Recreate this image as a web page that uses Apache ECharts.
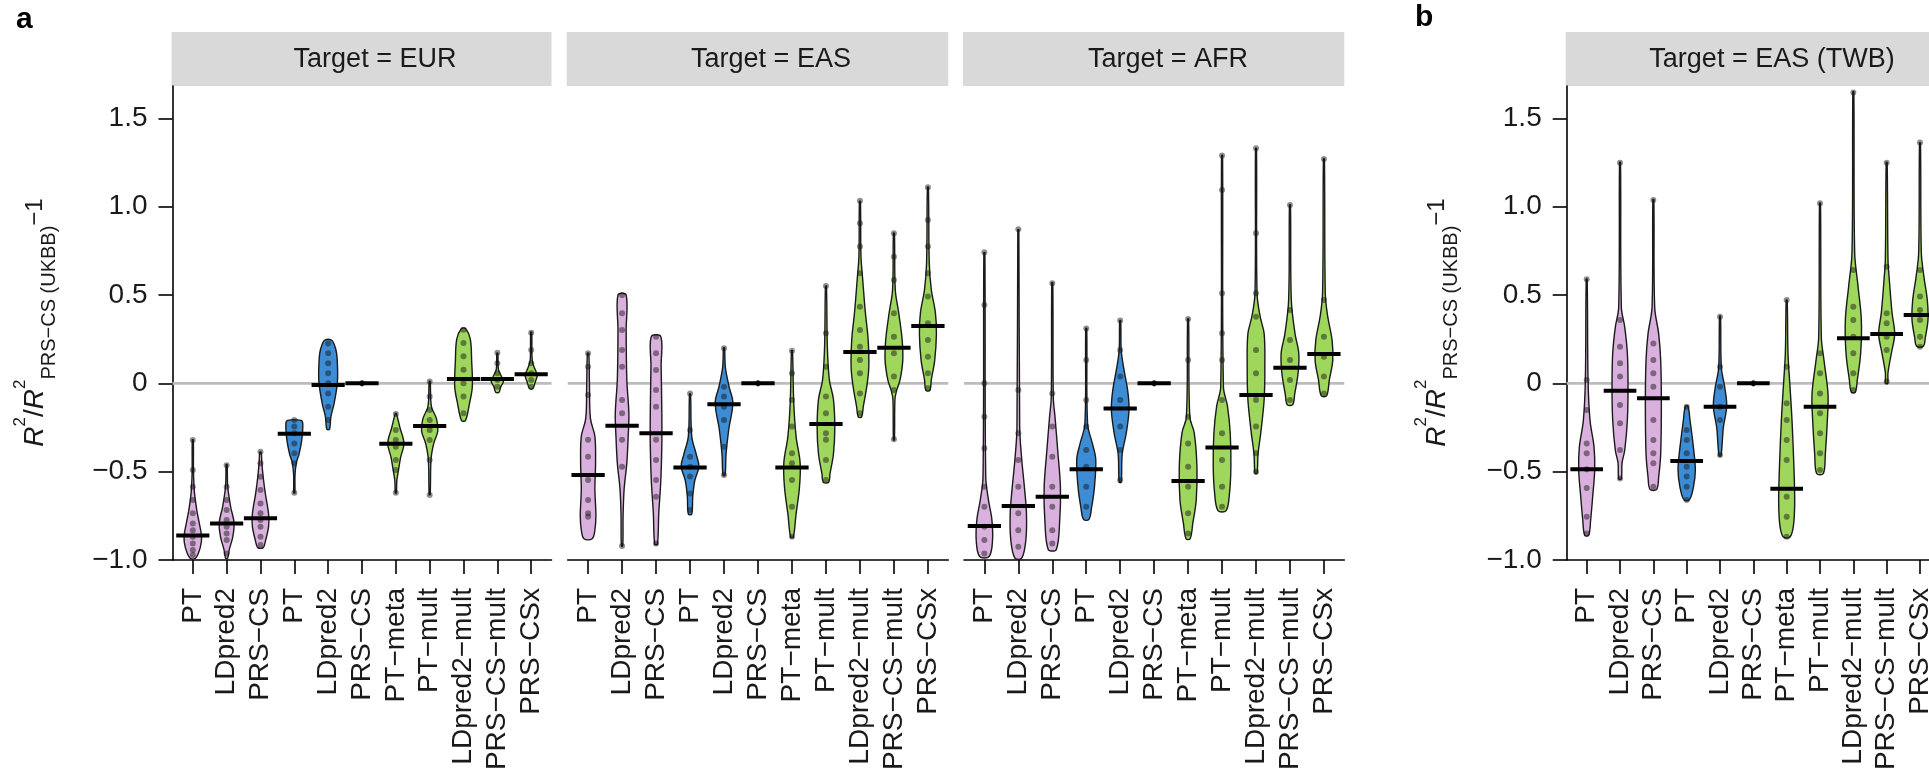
<!DOCTYPE html>
<html>
<head>
	<meta charset="UTF-8">
	<title>R2 ratio violins</title>
	<script src="https://cdn.jsdelivr.net/npm/echarts@6/dist/echarts.min.js"></script>
	<style>
		body { margin: 0; background: #fff; }
		#main { width: 1929px; height: 775px; }
	</style>
</head>
<body>
	<div id="main"></div>
	<script>

	// categories (x axis of every facet)
	var methods = ['PT', 'LDpred2', 'PRS\u2212CS', 'PT', 'LDpred2', 'PRS\u2212CS', 'PT\u2212meta', 'PT\u2212mult',
		'LDpred2\u2212mult', 'PRS\u2212CS\u2212mult', 'PRS\u2212CSx'];
	var methodGroup = [0, 0, 0, 1, 1, 1, 2, 2, 2, 2, 2];
	var panelTitles = ['Target = EUR', 'Target = EAS', 'Target = AFR', 'Target = EAS (TWB)'];

	// median per method, one array per facet
	var eurMedian = [-0.861, -0.793, -0.763, -0.285, -0.01, 0, -0.342, -0.242, 0.024, 0.024, 0.051];
	var easMedian = [-0.519, -0.24, -0.283, -0.476, -0.119, 0, -0.476, -0.23, 0.177, 0.202, 0.324];
	var afrMedian = [-0.808, -0.695, -0.642, -0.487, -0.142, 0, -0.553, -0.363, -0.066, 0.088, 0.166];
	var twbMedian = [-0.487, -0.042, -0.085, -0.44, -0.132, 0, -0.597, -0.132, 0.255, 0.279, 0.387];

	// violin outlines: [value, half width in category units], top to bottom
	var refDot = [[0.012, 0.015], [0, 0.06], [-0.012, 0.015]];
	var eurViolin = [
		[[-0.32, 0.015], [-0.5, 0.02], [-0.62, 0.05], [-0.72, 0.12], [-0.8, 0.2], [-0.87, 0.26], [-0.93, 0.22], [-0.99, 0.08]],
		[[-0.46, 0.015], [-0.58, 0.03], [-0.7, 0.12], [-0.79, 0.22], [-0.87, 0.18], [-0.94, 0.08], [-0.99, 0.03]],
		[[-0.39, 0.02], [-0.45, 0.04], [-0.53, 0.08], [-0.62, 0.14], [-0.74, 0.24], [-0.81, 0.24], [-0.89, 0.15], [-0.93, 0.08]],
		[[-0.21, 0.2], [-0.23, 0.25], [-0.32, 0.22], [-0.4, 0.14], [-0.45, 0.06], [-0.52, 0.02], [-0.62, 0.015]],
		[[0.245, 0.1], [0.22, 0.18], [0.17, 0.25], [0.07, 0.28], [0, 0.27], [-0.11, 0.18], [-0.19, 0.08], [-0.26, 0.04]],
		refDot,
		[[-0.17, 0.015], [-0.25, 0.12], [-0.34, 0.24], [-0.42, 0.14], [-0.49, 0.08], [-0.55, 0.03], [-0.62, 0.015]],
		[[0.01, 0.015], [-0.13, 0.05], [-0.2, 0.2], [-0.27, 0.24], [-0.34, 0.12], [-0.43, 0.04], [-0.63, 0.015]],
		[[0.31, 0.06], [0.25, 0.2], [0.13, 0.24], [-0.02, 0.26], [-0.11, 0.18], [-0.21, 0.06]],
		[[0.17, 0.015], [0.08, 0.03], [0.04, 0.12], [0.01, 0.18], [-0.02, 0.1], [-0.05, 0.05]],
		[[0.29, 0.015], [0.13, 0.03], [0.085, 0.1], [0.046, 0.18], [0.008, 0.12], [-0.03, 0.05]]
	];
	var easViolin = [
		[[0.17, 0.02], [0, 0.04], [-0.2, 0.07], [-0.3, 0.2], [-0.45, 0.22], [-0.6, 0.2], [-0.75, 0.23], [-0.83, 0.2], [-0.88, 0.12]],
		[[0.5, 0.12], [0.3, 0.12], [0.02, 0.14], [-0.17, 0.2], [-0.3, 0.18], [-0.45, 0.14], [-0.6, 0.06], [-0.75, 0.03], [-0.92, 0.02]],
		[[0.264, 0.14], [0.1, 0.15], [-0.17, 0.17], [-0.35, 0.17], [-0.55, 0.14], [-0.735, 0.08], [-0.91, 0.04]],
		[[-0.06, 0.015], [-0.3, 0.05], [-0.4, 0.18], [-0.47, 0.26], [-0.55, 0.14], [-0.64, 0.08], [-0.74, 0.05]],
		[[0.2, 0.015], [0.09, 0.04], [-0.02, 0.15], [-0.11, 0.26], [-0.26, 0.14], [-0.4, 0.06], [-0.52, 0.03]],
		refDot,
		[[0.185, 0.015], [-0.1, 0.05], [-0.3, 0.12], [-0.45, 0.24], [-0.59, 0.22], [-0.74, 0.12], [-0.87, 0.04]],
		[[0.55, 0.015], [0.21, 0.04], [0.02, 0.1], [-0.09, 0.22], [-0.25, 0.26], [-0.4, 0.22], [-0.51, 0.12], [-0.56, 0.08]],
		[[1.03, 0.015], [0.72, 0.03], [0.59, 0.08], [0.4, 0.16], [0.25, 0.24], [0.09, 0.26], [-0.02, 0.2], [-0.13, 0.1], [-0.19, 0.05]],
		[[0.85, 0.015], [0.53, 0.04], [0.4, 0.14], [0.25, 0.24], [0.13, 0.26], [0.02, 0.18], [-0.04, 0.08], [-0.09, 0.03], [-0.32, 0.015]],
		[[1.11, 0.015], [0.68, 0.04], [0.53, 0.1], [0.4, 0.22], [0.28, 0.25], [0.13, 0.2], [0.02, 0.1], [-0.04, 0.06]]
	];
	var afrViolin = [
		[[0.74, 0.015], [-0.53, 0.04], [-0.66, 0.12], [-0.77, 0.22], [-0.89, 0.24], [-0.98, 0.14]],
		[[0.87, 0.015], [-0.25, 0.04], [-0.43, 0.1], [-0.59, 0.18], [-0.74, 0.24], [-0.89, 0.22], [-0.99, 0.1]],
		[[0.57, 0.015], [-0.08, 0.03], [-0.19, 0.08], [-0.38, 0.16], [-0.59, 0.24], [-0.77, 0.22], [-0.94, 0.12]],
		[[0.31, 0.015], [-0.23, 0.04], [-0.34, 0.18], [-0.43, 0.28], [-0.59, 0.24], [-0.7, 0.16], [-0.77, 0.08]],
		[[0.355, 0.015], [0.19, 0.03], [0.09, 0.1], [-0.04, 0.22], [-0.15, 0.26], [-0.28, 0.18], [-0.4, 0.06], [-0.56, 0.03]],
		refDot,
		[[0.364, 0.015], [-0.19, 0.05], [-0.28, 0.18], [-0.47, 0.26], [-0.66, 0.24], [-0.79, 0.14], [-0.88, 0.06]],
		[[1.29, 0.015], [-0.02, 0.04], [-0.13, 0.16], [-0.28, 0.24], [-0.47, 0.26], [-0.62, 0.22], [-0.72, 0.12]],
		[[1.33, 0.015], [0.51, 0.03], [0.38, 0.12], [0.28, 0.24], [0.09, 0.26], [-0.09, 0.24], [-0.28, 0.14], [-0.4, 0.06], [-0.51, 0.03]],
		[[1.01, 0.015], [0.47, 0.04], [0.28, 0.15], [0.17, 0.26], [0.06, 0.24], [-0.06, 0.14], [-0.12, 0.08]],
		[[1.27, 0.015], [0.51, 0.04], [0.38, 0.11], [0.245, 0.24], [0.13, 0.26], [0.02, 0.16], [-0.07, 0.08]]
	];
	var twbViolin = [
		[[0.59, 0.015], [0.02, 0.04], [-0.21, 0.1], [-0.36, 0.22], [-0.49, 0.24], [-0.64, 0.18], [-0.77, 0.12], [-0.86, 0.06]],
		[[1.25, 0.015], [0.43, 0.04], [0.32, 0.14], [0.17, 0.22], [-0.02, 0.24], [-0.21, 0.22], [-0.38, 0.14], [-0.45, 0.06], [-0.54, 0.04]],
		[[1.04, 0.015], [0.43, 0.04], [0.28, 0.16], [0.13, 0.22], [-0.11, 0.24], [-0.4, 0.22], [-0.53, 0.16], [-0.6, 0.1]],
		[[-0.13, 0.04], [-0.21, 0.1], [-0.36, 0.2], [-0.49, 0.26], [-0.59, 0.2], [-0.66, 0.08]],
		[[0.38, 0.015], [0.09, 0.04], [-0.02, 0.14], [-0.13, 0.2], [-0.25, 0.1], [-0.41, 0.03]],
		refDot,
		[[0.47, 0.015], [0.17, 0.04], [-0.02, 0.1], [-0.21, 0.16], [-0.49, 0.22], [-0.68, 0.24], [-0.81, 0.2], [-0.87, 0.1]],
		[[1.02, 0.015], [0.26, 0.04], [0.13, 0.12], [-0.06, 0.24], [-0.21, 0.22], [-0.4, 0.16], [-0.51, 0.1]],
		[[1.65, 0.015], [0.74, 0.04], [0.55, 0.14], [0.36, 0.24], [0.17, 0.22], [0.02, 0.12], [-0.05, 0.06]],
		[[1.25, 0.015], [0.7, 0.04], [0.585, 0.08], [0.4, 0.16], [0.28, 0.24], [0.17, 0.14], [0.06, 0.04], [0, 0.03]],
		[[1.36, 0.015], [0.74, 0.04], [0.6, 0.12], [0.47, 0.22], [0.36, 0.24], [0.26, 0.16], [0.21, 0.1]]
	];

	// individual trait points (estimated), per method
	var eurPoints = [
		[-0.321, -0.491, -0.585, -0.661, -0.736, -0.793, -0.831, -0.868, -0.906, -0.944, -0.972],
		[-0.463, -0.585, -0.66, -0.717, -0.774, -0.812, -0.85, -0.887, -0.963],
		[-0.387, -0.453, -0.529, -0.604, -0.68, -0.736, -0.774, -0.812, -0.868, -0.915],
		[-0.208, -0.245, -0.283, -0.34, -0.396, -0.453, -0.619],
		[0.226, 0.17, 0.113, 0.057, 0.0, -0.057, -0.132, -0.208],
		[0],
		[-0.174, -0.264, -0.321, -0.359, -0.434, -0.491, -0.619],
		[0.01, -0.075, -0.151, -0.208, -0.264, -0.321, -0.434, -0.632],
		[0.304, 0.228, 0.153, 0.077, 0.0, -0.075, -0.17],
		[0.173, 0.113, 0.057, 0.019, -0.019],
		[0.287, 0.189, 0.113, 0.057, 0.019, -0.019]
	];
	var easPoints = [
		[0.17, 0.094, -0.066, -0.32, -0.415, -0.547, -0.66, -0.736, -0.755],
		[0.5, 0.396, 0.302, 0.189, 0.094, -0.094, -0.17, -0.32, -0.472, -0.921],
		[0.264, 0.17, 0.075, -0.038, -0.132, -0.32, -0.434, -0.547, -0.642, -0.906],
		[-0.057, -0.264, -0.415, -0.472, -0.528, -0.623, -0.717],
		[0.198, -0.02, -0.075, -0.132, -0.208, -0.359, -0.519],
		[0],
		[0.185, 0.057, -0.094, -0.245, -0.396, -0.453, -0.547, -0.698, -0.868],
		[0.551, 0.283, 0.094, -0.075, -0.17, -0.283, -0.32, -0.434, -0.547],
		[1.034, 0.906, 0.774, 0.623, 0.434, 0.302, 0.207, 0.132, 0.057, -0.057, -0.17],
		[0.849, 0.717, 0.585, 0.396, 0.264, 0.17, 0.038, -0.038, -0.317],
		[1.11, 0.925, 0.774, 0.623, 0.491, 0.34, 0.245, 0.151, 0.057, -0.028]
	];
	var afrPoints = [
		[0.742, 0.443, 0.0, -0.189, -0.368, -0.585, -0.698, -0.812, -0.887, -0.963],
		[0.872, -0.038, -0.283, -0.434, -0.585, -0.736, -0.831, -0.925],
		[0.566, -0.057, -0.245, -0.415, -0.585, -0.698, -0.831, -0.906],
		[0.311, 0.132, -0.094, -0.245, -0.378, -0.472, -0.585, -0.698],
		[0.355, 0.189, 0.038, -0.094, -0.245, -0.378, -0.547],
		[0],
		[0.364, 0.132, -0.189, -0.34, -0.472, -0.585, -0.736, -0.85],
		[1.289, 1.095, 0.51, 0.283, 0.132, -0.094, -0.283, -0.434, -0.585, -0.698],
		[1.331, 0.849, 0.51, 0.377, 0.189, 0.057, -0.094, -0.245, -0.396, -0.5],
		[1.01, 0.415, 0.245, 0.132, 0.019, -0.094],
		[1.27, 0.472, 0.264, 0.151, 0.038, -0.057]
	];
	var twbPoints = [
		[0.589, 0.019, -0.151, -0.34, -0.396, -0.487, -0.593, -0.755, -0.85],
		[1.249, 0.358, 0.207, 0.113, 0.038, -0.123, -0.226, -0.378, -0.538],
		[1.038, 0.226, 0.132, 0.057, -0.019, -0.208, -0.321, -0.396, -0.453, -0.585],
		[-0.132, -0.264, -0.321, -0.396, -0.472, -0.528, -0.585, -0.661],
		[0.377, 0.094, -0.019, -0.132, -0.208, -0.406],
		[0],
		[0.472, 0.094, -0.113, -0.208, -0.321, -0.434, -0.642, -0.755, -0.868],
		[1.019, 0.17, 0.057, -0.057, -0.17, -0.283, -0.396, -0.491],
		[1.646, 0.641, 0.434, 0.358, 0.264, 0.17, 0.057, -0.038],
		[1.249, 0.66, 0.396, 0.34, 0.264, 0.189, 0.01],
		[1.363, 0.641, 0.491, 0.415, 0.358, 0.264, 0.207]
	];

	var medians = [eurMedian, easMedian, afrMedian, twbMedian];
	var violins = [eurViolin, easViolin, afrViolin, twbViolin];
	var points = [eurPoints, easPoints, afrPoints, twbPoints];

	var groupColors = ['#dab0de', '#3c8dd6', '#9fd65c'];
	var FONT = '"Liberation Sans", Arial, sans-serif';
	var TXT = '#1a1a1a';

	// facet boxes (pixels)
	var PANEL_TOP = 86, PANEL_H = 474;
	var panels = [
		{ left: 172.5, width: 379, yAxis: true, titleX: 375 },
		{ left: 567.7, width: 380.6, yAxis: false, titleX: 771 },
		{ left: 964, width: 380.3, yAxis: false, titleX: 1168 },
		{ left: 1566.7, width: 373.3, yAxis: true, titleX: 1772 }
	];
	var catTicks = methods.map(function(m, i) { return i; });

	function fmtY(v) {
		if (v === 0) return '0';
		return (v < 0 ? '\u2212' : '') + Math.abs(v).toFixed(1);
	}

	var option = {
		backgroundColor: '#fff',
		animation: false,
		grid: [], xAxis: [], yAxis: [], series: [], graphic: []
	};

	panels.forEach(function(pn, p) {
		option.grid.push({
			left: pn.left, top: PANEL_TOP, width: pn.width, height: PANEL_H,
			containLabel: false, outerBoundsMode: 'none'
		});
		option.xAxis.push({
			gridIndex: p, type: 'value', min: -0.6, max: 10.6,
			splitLine: { show: false },
			axisLine: { onZero: false, lineStyle: { color: '#000', width: 1.6 } },
			axisTick: { customValues: catTicks, length: 14, lineStyle: { color: '#000', width: 1.6 } },
			axisLabel: {
				customValues: catTicks, rotate: 90, margin: 28,
				fontSize: 28, fontFamily: FONT, color: TXT,
				formatter: function(v) { return methods[Math.round(v)]; }
			}
		});
		option.yAxis.push({
			gridIndex: p, type: 'value', min: -1, max: 1.683, interval: 0.5,
			show: pn.yAxis,
			splitLine: { show: false },
			axisLine: { show: true, onZero: false, lineStyle: { color: '#000', width: 1.6 } },
			axisTick: { show: true, length: 14, lineStyle: { color: '#000', width: 1.6 } },
			axisLabel: { margin: 25, fontSize: 28, fontFamily: FONT, color: TXT, formatter: fmtY,
				showMaxLabel: false, showMinLabel: true }
		});

		// zero reference line
		option.series.push({
			type: 'line', xAxisIndex: p, yAxisIndex: p, silent: true, z: 1,
			symbol: 'none', data: [[-0.6, 0], [10.6, 0]],
			lineStyle: { color: '#bcbcbc', width: 2.6 }
		});

		// violins
		option.series.push({
			type: 'custom', xAxisIndex: p, yAxisIndex: p, z: 2, silent: true,
			data: methods.map(function(m, i) { return [i]; }),
			renderItem: function(params, api) {
				var i = api.value(0);
				var prof = violins[p][i];
				var right = prof.map(function(d) { return api.coord([i + d[1], d[0]]); });
				var left = prof.slice().reverse().map(function(d) { return api.coord([i - d[1], d[0]]); });
				return {
					type: 'polygon',
					shape: { points: right.concat(left), smooth: 0.35 },
					style: { fill: groupColors[methodGroup[i]], stroke: '#1a1a1a', lineWidth: 1.4 }
				};
			}
		});

		// trait points
		var pts = [];
		points[p].forEach(function(list, i) {
			list.forEach(function(v) { pts.push([i, v]); });
		});
		option.series.push({
			type: 'scatter', xAxisIndex: p, yAxisIndex: p, z: 3, silent: true,
			symbol: 'circle', symbolSize: 6, data: pts,
			itemStyle: { color: 'rgba(20,20,20,0.6)' }
		});

		// medians
		option.series.push({
			type: 'custom', xAxisIndex: p, yAxisIndex: p, z: 4, silent: true,
			data: medians[p].map(function(m, i) { return [i, m]; }),
			renderItem: function(params, api) {
				var i = api.value(0);
				var a = api.coord([i - 0.49, api.value(1)]);
				var b = api.coord([i + 0.49, api.value(1)]);
				return {
					type: 'line',
					shape: { x1: a[0], y1: a[1], x2: b[0], y2: b[1] },
					style: { stroke: '#000', lineWidth: 4 }
				};
			}
		});

		// facet strip
		option.graphic.push({
			type: 'rect', z: 0,
			shape: { x: pn.left - 1, y: 32, width: pn.width + 1, height: 54 },
			style: { fill: '#d9d9d9' }
		});
		option.graphic.push({
			type: 'text', x: pn.titleX, y: 59.5,
			style: { text: panelTitles[p], font: '27px ' + FONT, fill: TXT, align: 'center', verticalAlign: 'middle' }
		});
	});

	// y axis titles and panel letters
	var yTitle = '{it|R}{sup|2}{n|/}{it|R}{sup|2}{sub|PRS\u2212CS (UKBB)}{m|\u22121}';
	var yRich = {
		it: { fontStyle: 'italic', fontSize: 28, lineHeight: 48, fontFamily: FONT, fill: TXT },
		n: { fontSize: 28, lineHeight: 48, fontFamily: FONT, fill: TXT },
		sup: { fontSize: 17, lineHeight: 28, verticalAlign: 'top', fontFamily: FONT, fill: TXT },
		sub: { fontSize: 20, lineHeight: 13, verticalAlign: 'bottom', fontFamily: FONT, fill: TXT },
		m: { fontSize: 24, lineHeight: 48, fontFamily: FONT, fill: TXT }
	};
	[35.5, 1437].forEach(function(x) {
		option.graphic.push({
			type: 'text', x: x, y: 322.5, rotation: Math.PI / 2,
			style: { text: yTitle, rich: yRich, align: 'center', verticalAlign: 'middle' }
		});
	});
	option.graphic.push({
		type: 'text', x: 16, y: 20,
		style: { text: 'a', font: 'bold 30px ' + FONT, fill: '#000', verticalAlign: 'middle' }
	});
	option.graphic.push({
		type: 'text', x: 1415, y: 18,
		style: { text: 'b', font: 'bold 30px ' + FONT, fill: '#000', verticalAlign: 'middle' }
	});

	var myChart = echarts.init(document.getElementById('main'));
	myChart.setOption(option);

	</script>
</body>
</html>
